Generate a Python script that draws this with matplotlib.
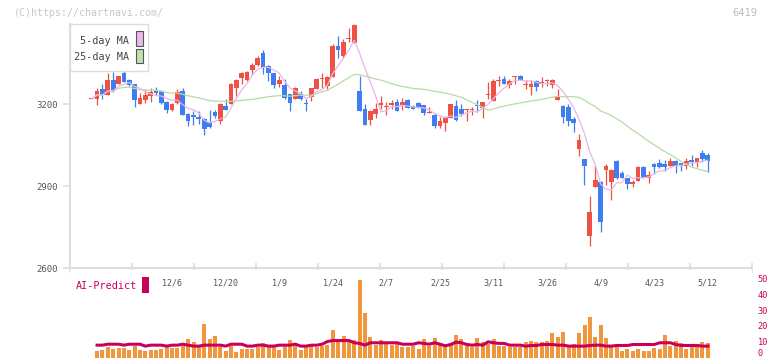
import numpy as np
import pandas as pd
import matplotlib
matplotlib.use('Agg')
import matplotlib.pyplot as plt
from matplotlib.patches import Rectangle
import matplotlib.transforms as mtransforms

plt.rcParams['font.family'] = ['DejaVu Sans Mono']

# daily OHLC (first candle is the previous close)
opens = [3217, 3218, 3256, 3234, 3289, 3274, 3315, 3289, 3274, 3200,
         3215, 3230, 3248, 3246, 3209, 3179, 3203, 3247, 3164, 3160,
         3151, 3146, 3135, 3169, 3136, 3193, 3201, 3260, 3295, 3287,
         3323, 3343, 3386, 3340, 3312, 3275, 3270, 3237, 3219, 3237,
         3203, 3227, 3254, 3292, 3267, 3297, 3413, 3376, 3437, 3425,
         3248, 3182, 3142, 3164, 3198, 3189, 3198, 3207, 3197, 3215,
         3193, 3203, 3195, 3168, 3160, 3118, 3132, 3148, 3191, 3181,
         3177, 3177, 3194, 3187, 3234, 3212, 3285, 3292, 3268, 3298,
         3304, 3270, 3261, 3285, 3275, 3285, 3270, 3213, 3193, 3189,
         3145, 3035, 2999, 2717, 2898, 2913, 2957, 2913, 2992, 2949,
         2929, 2907, 2919, 2970, 2931, 2981, 2984, 2981, 2974, 2992,
         2983, 2974, 2995, 2986, 3020, 3014]
highs = [3218, 3258, 3274, 3312, 3318, 3303, 3323, 3290, 3274, 3242,
         3254, 3260, 3264, 3250, 3210, 3203, 3254, 3258, 3166, 3175,
         3173, 3148, 3179, 3179, 3203, 3218, 3276, 3291, 3318, 3319,
         3350, 3374, 3398, 3341, 3312, 3303, 3292, 3238, 3264, 3249,
         3219, 3258, 3294, 3313, 3304, 3419, 3449, 3438, 3478, 3493,
         3301, 3201, 3179, 3203, 3230, 3207, 3215, 3218, 3222, 3218,
         3195, 3208, 3195, 3189, 3167, 3151, 3155, 3201, 3215, 3201,
         3180, 3189, 3215, 3209, 3279, 3290, 3301, 3304, 3291, 3303,
         3307, 3288, 3288, 3287, 3298, 3291, 3290, 3255, 3195, 3201,
         3152, 3091, 3000, 2864, 2973, 2919, 2981, 2961, 2994, 2956,
         2930, 2922, 2972, 2974, 2956, 2983, 2999, 2996, 3002, 2994,
         2985, 3002, 3012, 3004, 3030, 3022]
lows = [3217, 3197, 3220, 3234, 3243, 3272, 3281, 3266, 3188, 3200,
        3205, 3207, 3234, 3200, 3168, 3175, 3200, 3158, 3120, 3124,
        3126, 3087, 3112, 3150, 3126, 3177, 3199, 3231, 3274, 3285,
        3307, 3340, 3309, 3285, 3258, 3262, 3220, 3176, 3217, 3216,
        3173, 3212, 3254, 3260, 3256, 3297, 3368, 3370, 3428, 3425,
        3176, 3124, 3124, 3149, 3182, 3160, 3182, 3173, 3179, 3185,
        3180, 3187, 3160, 3168, 3112, 3112, 3103, 3148, 3136, 3156,
        3136, 3158, 3172, 3150, 3218, 3210, 3267, 3272, 3257, 3274,
        3287, 3254, 3233, 3246, 3262, 3267, 3258, 3213, 3132, 3120,
        3096, 3010, 2904, 2681, 2898, 2730, 2904, 2850, 2927, 2928,
        2890, 2898, 2918, 2929, 2911, 2944, 2966, 2956, 2972, 2949,
        2956, 2963, 2974, 2971, 2986, 2953]
closes = [3218, 3249, 3232, 3289, 3253, 3303, 3281, 3268, 3215, 3223,
          3234, 3245, 3240, 3203, 3179, 3201, 3245, 3160, 3136, 3151,
          3145, 3108, 3117, 3157, 3201, 3179, 3274, 3289, 3315, 3317,
          3341, 3370, 3330, 3312, 3268, 3286, 3222, 3205, 3258, 3218,
          3200, 3258, 3292, 3295, 3300, 3413, 3398, 3428, 3439, 3490,
          3176, 3124, 3175, 3182, 3200, 3194, 3200, 3175, 3207, 3186,
          3181, 3187, 3167, 3170, 3121, 3136, 3154, 3201, 3142, 3164,
          3179, 3180, 3191, 3207, 3236, 3285, 3287, 3274, 3285, 3301,
          3289, 3273, 3274, 3261, 3277, 3287, 3288, 3224, 3151, 3136,
          3132, 3069, 2974, 2804, 2922, 2770, 2974, 2959, 2929, 2929,
          2908, 2914, 2970, 2931, 2941, 2968, 2968, 2968, 2992, 2974,
          2974, 2992, 2986, 3002, 2999, 2993]

# volume bars and AI-Predict line (from the second candle on)
volume = [4.4, 5, 6.5, 5.6, 6, 6, 5, 7.5, 5, 4.4, 5, 5, 5.6, 6.9, 6, 6, 7.5,
          11.7, 10, 6.9, 21, 11.7, 13.8, 6.9, 4.4, 7.3, 3.5, 5.6, 5.6, 5.6,
          6.9, 9.4, 6.9, 6.9, 4.8, 7.5, 11, 7.5, 5, 6.9, 7.5, 6.9, 7.5, 8,
          17.3, 11.7, 13.8, 11, 11, 49, 28, 13, 8.3, 11, 8.7, 7.7, 8.7,
          6.7, 6.7, 7.5, 5.2, 11.7, 7.5, 12.3, 8.7, 7.5, 9.2, 14, 11.7, 7.5,
          6.7, 12.3, 9.8, 8.7, 11.7, 7.5, 7.5, 6.7, 6.7, 6.7, 9.8, 10.4, 9.8,
          9.8, 10.4, 15.6, 12.9, 16, 7.5, 8.5, 15.6, 20.6, 25.4, 12.9, 20.4,
          12.3, 7.5, 6.7, 4.4, 5.4, 4.4, 5.4, 4.4, 4.4, 6, 5.6, 14, 7.5,
          10.6, 9.2, 5.4, 7.5, 7.5, 9.8, 9.2]
ai_predict = [7.9, 7.9, 8.5, 8.5, 8.5, 7.9, 8.5, 8.5, 8.5, 7.3, 7.9, 7.9, 7.9,
              7.3, 7.9, 7.9, 8.5, 7.9, 7.3, 7.3, 7.9, 7.9, 7.9, 7.9, 7.3, 8.5,
              8.5, 8.5, 7.3, 7.3, 7.9, 7.9, 7.3, 7.3, 7.9, 7.9, 7.9, 8.5, 7.3,
              7.3, 7.9, 7.9, 8.5, 10.2, 10.8, 10.8, 10.8, 10.8, 9.4, 9, 7.9,
              9.4, 9.4, 9.4, 9.4, 9.4, 9.4,
              8.5, 8.5, 8.5, 9.4, 9, 8.5, 9.4, 8.5, 7.5, 8.3, 9.8, 9.4, 8.3,
              7.9, 8.3, 7.9, 10, 9.4, 9, 9, 7.9, 7.9, 7.9, 7.3, 7.7, 7.7, 8.3,
              8.3, 8.3, 7.9, 7.9, 7.3, 7.3, 7.3, 7.3, 7.7, 7.9, 7.9, 7.3, 7.3,
              7.7, 7.7, 7.7, 8.3, 8.3, 8.3, 8.3, 8.3, 9.4, 9.4, 9.4, 8.3, 7.7,
              7.7, 7.7, 7.7, 7.3, 7.3]

date_labels = ['12/6', '12/20', '1/9', '1/24', '2/7', '2/25', '3/11',
               '3/26', '4/9', '4/23', '5/12']
date_index = [15, 25, 35, 45, 55, 65, 75, 85, 95, 105, 115]

df = pd.DataFrame({'open': opens, 'high': highs, 'low': lows, 'close': closes})
df['ma5'] = df['close'].rolling(5, min_periods=1).mean()
df['ma25'] = df['close'].rolling(25, min_periods=1).mean()
idx = np.arange(len(df))

W, H = 772, 361
fig = plt.figure(figsize=(W / 100, H / 100), dpi=100)
fig.patch.set_facecolor('white')

def box(x0, y0, x1, y1):
    # pixel box (top-left origin) -> figure fraction
    return [x0 / W, (H - y1) / H, (x1 - x0) / W, (y1 - y0) / H]

RED = '#ef5242'
BLUE = '#3f7ef0'
GRID = '#dddddd'
CRIMSON = '#c8005a'

# ---- price panel ----
px_per_yen = 82 / 300
ax = fig.add_axes(box(70.3, 20, 752.3, 268))
ax.set_ylim(2600, 2600 + 248 / px_per_yen)
ax.set_xlim(-4.0, 123.3)
for s in ['top', 'right']:
    ax.spines[s].set_visible(False)
for s in ['left', 'bottom']:
    ax.spines[s].set_color(GRID)
    ax.spines[s].set_linewidth(1.5)
ax.spines['left'].set_bounds(2600, 2600 + 244 / px_per_yen)
ax.set_yticks([2600, 2900, 3200])
ax.tick_params(axis='y', length=5, width=1.2, color=GRID, labelsize=6.5,
               labelcolor='#555555', pad=4)
ax.set_xticks(-4.0 + 11.576 * np.arange(12))
ax.set_xticklabels([])
ax.tick_params(axis='x', direction='inout', length=7, width=1.2, color=GRID)

colors = [RED if c >= o else BLUE for o, c in zip(df['open'], df['close'])]
ax.vlines(idx, df['low'], df['high'], colors=colors, linewidth=0.9, zorder=2)
body_lo = np.minimum(df['open'], df['close'])
body_h = np.maximum(np.abs(df['close'] - df['open']), 4)
ax.bar(idx, body_h, bottom=body_lo, width=0.88, color=colors, linewidth=0, zorder=2)
ax.plot(idx, df['ma25'], color='#b6dca6', linewidth=0.9, zorder=3)
ax.plot(idx, df['ma5'], color='#e8b6e8', linewidth=0.9, zorder=3)

# ---- volume panel ----
ax2 = fig.add_axes(box(70.3, 270, 752.3, 357.7))
ax2.set_xlim(-4.0, 123.3)
ax2.set_ylim(0, (357.7 - 270) / 1.588)
for s in ax2.spines.values():
    s.set_visible(False)
ax2.set_xticks([])
ax2.yaxis.tick_right()
ax2.set_yticks([0, 10, 20, 30, 40, 50])
ax2.tick_params(axis='y', length=0, labelsize=6.2, labelcolor=CRIMSON, pad=4)
# lowest label sits on the bottom edge, keep it inside the picture
ax2.get_yticklabels()[0].set_verticalalignment('bottom')
ax2.bar(idx[1:], volume, width=0.75, color='#f0963e', linewidth=0)
ax2.plot(idx[1:], ai_predict, color=CRIMSON, linewidth=2.2)
trans = mtransforms.blended_transform_factory(ax2.transData, ax2.transAxes)
for i, lab in zip(date_index, date_labels):
    ax2.text(i, 0.855, lab, transform=trans, ha='center', va='center',
             fontsize=6, color='#555555')

# ---- overlay: legend, labels, watermark ----
ov = fig.add_axes([0, 0, 1, 1], zorder=10)
ov.set_xlim(0, W)
ov.set_ylim(H, 0)
ov.axis('off')
ov.patch.set_alpha(0)

ov.text(14, 12.5, '(C)https://chartnavi.com/', fontsize=7.2, color='#c8c8c8',
        ha='left', va='center')
ov.text(757.5, 12.5, '6419', fontsize=7.5, color='#bdbdbd', ha='right', va='center')

ov.add_patch(Rectangle((70.3, 24), 78, 47, facecolor='white', edgecolor=GRID, linewidth=1))
ov.text(129.5, 40.5, '5-day MA', fontsize=7.3, color='#444444', ha='right', va='center')
ov.text(129.5, 57, '25-day MA', fontsize=7.3, color='#444444', ha='right', va='center')
ov.add_patch(Rectangle((136.3, 31.3), 6.3, 15, facecolor='#eab8ea', edgecolor='#555555', linewidth=0.8))
ov.add_patch(Rectangle((136.3, 48.7), 6.3, 14.6, facecolor='#bfe0b0', edgecolor='#555555', linewidth=0.8))

ov.text(75.5, 286, 'AI-Predict', fontsize=7.3, color=CRIMSON, ha='left', va='center')
ov.add_patch(Rectangle((142.3, 277.3), 6.4, 15.4, facecolor=CRIMSON, edgecolor='none'))

fig.savefig('out.png', dpi=100)
